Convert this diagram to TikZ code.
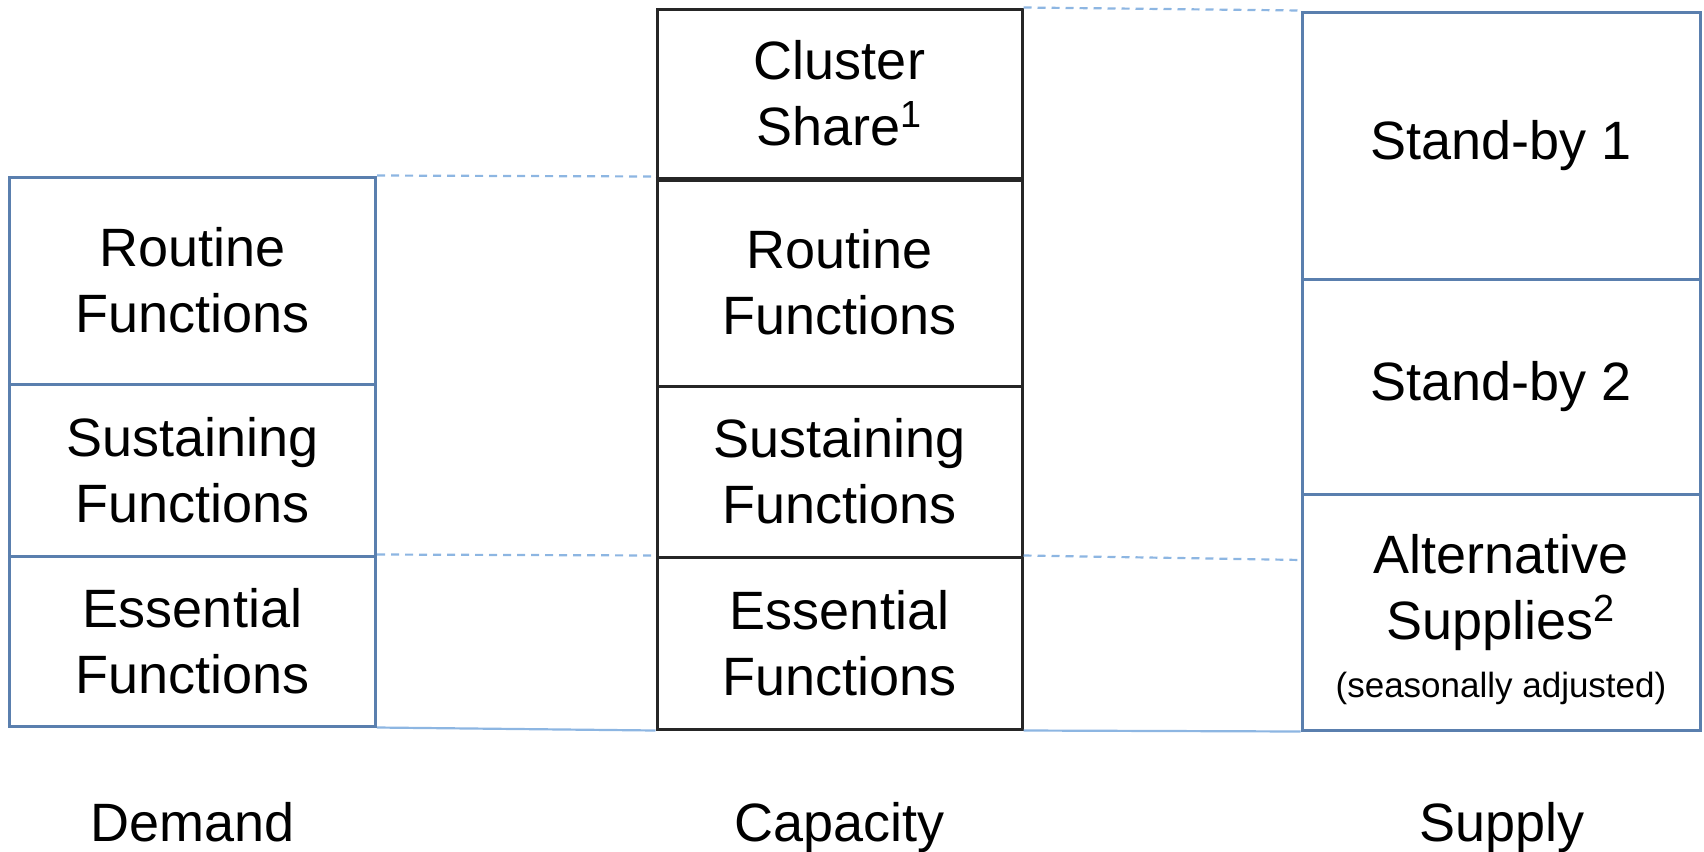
\documentclass[tikz,border=0pt]{standalone}
\usepackage{fontspec}
\setmainfont{Liberation Sans}
\definecolor{boxblue}{HTML}{5A7FAE}
\definecolor{dashblue}{HTML}{8DB6E2}
\tikzset{
  cell/.style={draw, rectangle, inner sep=0pt, align=center,
    font=\fontsize{27}{33}\selectfont, line width=1.5pt},
  dcell/.style={cell, draw=boxblue},
  ccell/.style={cell, draw=black!85},
  guide/.style={draw=dashblue, line width=1.1pt, dash pattern=on 4pt off 3pt},
  baseline/.style={draw=dashblue, line width=1.1pt},
  lbl/.style={font=\fontsize{27}{33}\selectfont, anchor=base}
}
\begin{document}
\begin{tikzpicture}[x=0.5pt,y=-0.5pt]
\useasboundingbox (0,0) rectangle (1704,852);
% Demand column
\node[dcell, minimum width=183pt, minimum height=103.5pt] (dR) at (192.5,280.5) {Routine\\Functions};
\node[dcell, minimum width=183pt, minimum height=86pt] (dS) at (192.5,470) {Sustaining\\Functions};
\node[dcell, minimum width=183pt, minimum height=85pt] (dE) at (192.5,641) {Essential\\Functions};
% Capacity column
\node[ccell, minimum width=182.5pt, minimum height=84.5pt] (cC) at (839.5,93.5) {Cluster\\Share\textsuperscript{1}};
\node[ccell, minimum width=182.5pt, minimum height=104pt] (cR) at (839.5,282) {Routine\\Functions};
\node[ccell, minimum width=182.5pt, minimum height=85.5pt] (cS) at (839.5,471.5) {Sustaining\\Functions};
\node[ccell, minimum width=182.5pt, minimum height=86pt] (cE) at (839.5,643) {Essential\\Functions};
\draw[line width=2.6pt, black!85] (cC.south west) -- (cC.south east);
% Supply column
\node[dcell, minimum width=199pt, minimum height=133.5pt] (s1) at (1501,145.5) {Stand-by 1};
\node[dcell, minimum width=199pt, minimum height=107.5pt] (s2) at (1501,386.5) {Stand-by 2};
\node[dcell, minimum width=199pt, minimum height=118pt] (sA) at (1501,612) {\rule{0pt}{27pt}Alternative\\Supplies\textsuperscript{2}\\[-4pt]{\fontsize{17.5}{20}\selectfont (seasonally adjusted)}};
% guides
\coordinate (sEss) at (1302,560);
\draw[guide] (dR.north east) -- (cR.north west);
\draw[guide] (cC.north east) -- (s1.north west);
\draw[guide] (dE.north east) -- (cE.north west);
\draw[guide] (cE.north east) -- (sEss);
\draw[baseline] (dE.south east) -- (cE.south west);
\draw[baseline] (cE.south east) -- (sA.south west);
% labels
\node[lbl] (lD) at (193,841) {Demand};
\node[lbl] (lC) at (839.5,841) {Capacity};
\node[lbl] (lS) at (1502,841) {Supply};
\end{tikzpicture}
\end{document}
